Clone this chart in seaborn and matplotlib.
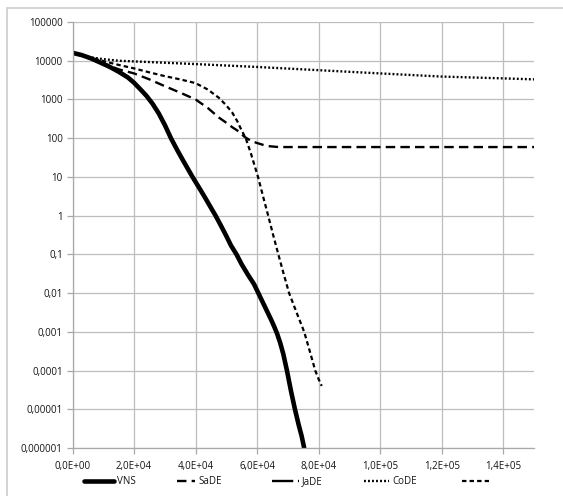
import matplotlib
matplotlib.use("Agg")
import matplotlib.pyplot as plt
import seaborn as sns
from matplotlib.lines import Line2D
from matplotlib.patches import Rectangle
from matplotlib.ticker import NullLocator

# ---------------- data ----------------
vns_x = [0, 3000, 6000, 9000, 12000, 15000, 18000, 20000, 22000, 24000, 26000, 28000,
         30000, 32000, 34000, 36000, 39000, 41000, 43000, 44800, 46500, 48000, 49800,
         51500, 53300, 55000, 57000, 59000, 60400, 62500, 64500, 65500, 66500, 67500,
         68500, 69700, 71000, 72300, 73500, 74500, 75300]
vns_y = [16000, 14000, 11500, 9000, 7000, 5200, 3700, 2700, 1850, 1250, 780, 440,
         220, 100, 50, 26, 10, 5.5, 3, 1.7, 1, 0.6, 0.32,
         0.17, 0.1, 0.055, 0.03, 0.017, 0.01, 0.0045, 0.0021, 0.0014, 0.0009, 0.00052,
         0.00027, 0.0001, 0.00003, 0.00001, 0.000004, 0.000002, 0.000001]

sade_x = [0, 5000, 9000, 15000, 20000, 25000, 30000, 35000, 40000, 44000, 47600, 50000,
          52000, 54000, 55800, 58000, 60000, 62000, 64000, 67000, 150000]
sade_y = [16000, 12000, 9200, 6000, 4700, 3300, 2200, 1500, 1000, 600, 340, 250,
          190, 150, 110, 85, 75, 67, 62, 59, 59]

jade_x = []
jade_y = []

code_x = [0, 5000, 10000, 15000, 20000, 40000, 60000, 80000, 100000, 120000, 140000, 150000]
code_y = [16000, 12500, 11000, 10000, 9600, 8200, 6900, 5700, 4700, 3900, 3500, 3300]

s5_x = [0, 5000, 10000, 15000, 20000, 25000, 30000, 35000, 40000, 44000, 47600, 50000,
        51900, 53500, 55000, 56300, 58000, 60300, 62000, 63600, 65200, 66900, 68600,
        70400, 72800, 75300, 77100, 78900, 80000, 81000]
s5_y = [16000, 12500, 9800, 7800, 6340, 5000, 4000, 3300, 2640, 1800, 1100, 700,
        460, 280, 157, 100, 40, 10, 3, 1, 0.32, 0.1, 0.032,
        0.01, 0.0032, 0.001, 0.00032, 0.0001, 0.00006, 0.00004]

series_names = ["VNS", "SaDE", "JaDE", "CoDE", ""]

y_ticks = [1e-6, 1e-5, 1e-4, 1e-3, 1e-2, 1e-1, 1, 10, 100, 1000, 10000, 100000]
y_tick_labels = ["0,000001", "0,00001", "0,0001", "0,001", "0,01", "0,1",
                 "1", "10", "100", "1000", "10000", "100000"]
x_ticks = [0, 20000, 40000, 60000, 80000, 100000, 120000, 140000]
x_tick_labels = ["0,0E+00", "2,0E+04", "4,0E+04", "6,0E+04", "8,0E+04",
                 "1,0E+05", "1,2E+05", "1,4E+05"]

# ---------------- style ----------------
sns.set_theme(style="white")
plt.rcParams["font.family"] = ["Open Sans", "DejaVu Sans"]

W, H = 563, 496
fig = plt.figure(figsize=(W / 100, H / 100), dpi=100)
fig.patch.set_facecolor("white")

# outer chart border (cut off on the right/bottom like the reference)
fig.patches.append(Rectangle((7 / W, -0.05), 1.1, 1 - 8 / H + 0.05,
                             transform=fig.transFigure, fill=False,
                             edgecolor="#d0d0d0", lw=1.3))

ax = fig.add_axes([72.5 / W, 1 - 448 / H, 461.5 / W, 426 / H])

styles = {
    "VNS": dict(lw=3.3, linestyle="-"),
    "SaDE": dict(lw=1.7, linestyle=(0, (4.0, 2.2))),
    "JaDE": dict(lw=1.7, linestyle=(0, (9.0, 2.0))),
    "CoDE": dict(lw=1.7, linestyle=(0, (0.8, 0.9))),
    "": dict(lw=1.6, linestyle=(0, (2.0, 1.4))),
}
data = {
    "VNS": (vns_x, vns_y),
    "SaDE": (sade_x, sade_y),
    "JaDE": (jade_x, jade_y),
    "CoDE": (code_x, code_y),
    "": (s5_x, s5_y),
}

for name in series_names:
    xs, ys = data[name]
    if len(xs) == 0:
        continue
    sns.lineplot(x=xs, y=ys, ax=ax, color="black", sort=False, estimator=None,
                 legend=False, **styles[name])

ax.set_yscale("log")
ax.set_ylim(1e-6, 1e5)
ax.set_xlim(0, 150000)
ax.set_yticks(y_ticks)
ax.set_yticklabels(y_tick_labels)
ax.yaxis.set_minor_locator(NullLocator())
ax.set_xticks(x_ticks)
ax.set_xticklabels(x_tick_labels)

gridc = "#bdbdbd"
ax.grid(True, color=gridc, lw=0.9)
ax.set_axisbelow(True)
for s in ["top", "right"]:
    ax.spines[s].set_visible(False)
for s in ["left", "bottom"]:
    ax.spines[s].set_color("#a8a8a8")
    ax.spines[s].set_linewidth(0.9)

txtc = "#141414"
ax.tick_params(axis="y", which="major", direction="out", length=4, width=0.9,
               color="#a8a8a8", labelsize=7, labelcolor=txtc, pad=3, left=True)
ax.tick_params(axis="x", which="major", direction="out", length=4, width=0.9,
               color="#a8a8a8", labelsize=7, labelcolor=txtc, pad=5, bottom=True)
ax.set_xlabel("")
ax.set_ylabel("")

# one legend entry per series, placed along the bottom like the reference
legend_x = [84, 177, 272, 364, 462]
handle_len = [3.1, 1.9, 2.8, 2.6, 2.8]
for name, lx, hl in zip(series_names, legend_x, handle_len):
    h = Line2D([], [], color="black", **styles[name])
    lg = fig.legend([h], [name], loc="center left",
                    bbox_to_anchor=(lx / W, 1 - 482 / H), frameon=False,
                    fontsize=7, handlelength=hl, handletextpad=0.3,
                    borderpad=0, borderaxespad=0, labelcolor=txtc)

fig.savefig("out.png", dpi=100)
